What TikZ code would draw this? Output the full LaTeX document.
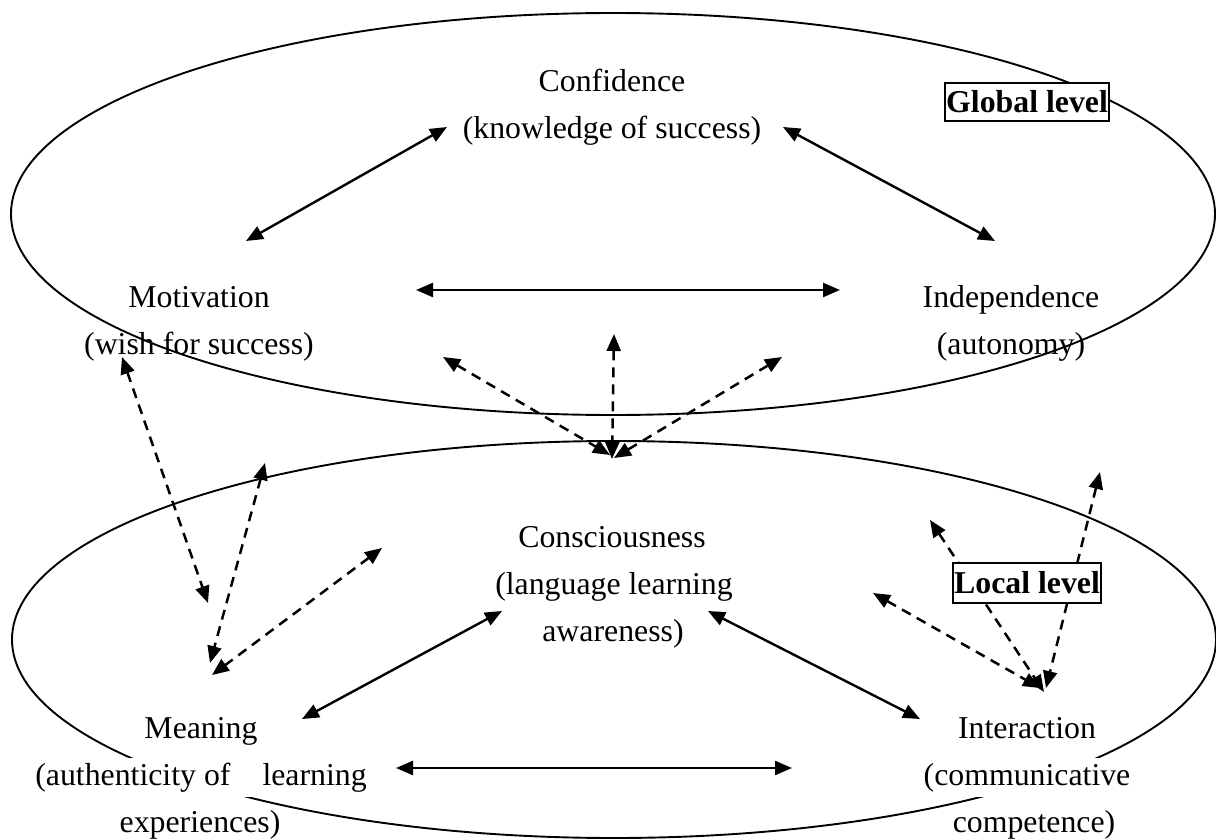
\documentclass[tikz,border=0pt]{standalone}
\usepackage{fontspec}
\setmainfont{Liberation Serif}
\usetikzlibrary{arrows.meta}
\begin{document}
\begin{tikzpicture}[x=0.5pt,y=-0.5pt,
  lbl/.style={font=\fontsize{15.9}{19}\selectfont, anchor=base, inner sep=2.5pt},
  wlbl/.style={lbl, fill=white},
  lvl/.style={draw, line width=1.1pt, fill=white, font=\fontsize{15.9}{19}\selectfont\bfseries, inner sep=0pt, minimum height=19pt, text height=10.9pt, text depth=0pt},
  oval/.style={line width=0.95pt},
  biarrow/.style={line width=1.2pt, {Triangle[length=8.5pt,width=7pt]}-{Triangle[length=8.5pt,width=7pt]}},
  dasharrow/.style={biarrow, line width=1.25pt, dash pattern=on 5pt off 3.5pt}
]
\useasboundingbox (0,0) rectangle (1216,840);

% ovals
\draw[oval] (613,214) ellipse [x radius=301pt, y radius=100.5pt];
\draw[oval] (614,639.5) ellipse [x radius=301pt, y radius=99.25pt];

% arrow end points
\coordinate (s1a) at (447,127); \coordinate (s1b) at (246,241);
\coordinate (s2a) at (783,127); \coordinate (s2b) at (995,241);
\coordinate (s3a) at (416,290); \coordinate (s3b) at (840,290);
\coordinate (s4a) at (502,611); \coordinate (s4b) at (302,719);
\coordinate (s5a) at (708,611); \coordinate (s5b) at (920,719);
\coordinate (s6a) at (396,768); \coordinate (s6b) at (792,768);

\coordinate (t1a) at (443,357); \coordinate (t1b) at (610,455);
\coordinate (t2a) at (614,334); \coordinate (t2b) at (612,459);
\coordinate (t3a) at (782,357); \coordinate (t3b) at (614,458);
\coordinate (l1a) at (122,357); \coordinate (l1b) at (208,603);
\coordinate (l2a) at (265,463); \coordinate (l2b) at (210,663);
\coordinate (l3a) at (382,548); \coordinate (l3b) at (212,675);
\coordinate (r1a) at (873,593); \coordinate (r1b) at (1040,688);
\coordinate (r2a) at (930,520); \coordinate (r2b) at (1044,692);
\coordinate (r3a) at (1100,472); \coordinate (r3b) at (1046,688);

% solid arrows
\foreach \n in {s1,s2,s3,s4,s5,s6} \draw[biarrow] (\n a) -- (\n b);
% dashed arrows
\foreach \n in {t1,t2,t3,l1,l2,l3,r1,r2,r3} \draw[dasharrow] (\n a) -- (\n b);

% global level texts
\node[lbl] (conf1) at (612,92) {Confidence};
\node[lbl] (conf2) at (612,139) {(knowledge of success)};
\node[lbl] (mot1) at (199,307) {Motivation};
\node[lbl] (mot2) at (199,354) {(wish for success)};
\node[lbl] (ind1) at (1011,307) {Independence};
\node[lbl] (ind2) at (1011,354) {(autonomy)};
\node[lvl, minimum width=82pt] (global) at (1027,102) {Global level};

% local level texts
\node[lbl] (con1) at (612,547) {Consciousness};
\node[lbl] (con2) at (614,594) {(language learning};
\node[lbl] (con3) at (613,641) {awareness)};
\node[lbl] (mea1) at (201,738) {Meaning};
\node[wlbl] (mea2) at (201,785) {(authenticity of\hspace{16pt}learning};
\node[lbl] (mea3) at (200,832) {experiences)};
\node[lbl] (int1) at (1027,738) {Interaction};
\node[wlbl] (int2) at (1027,785) {(communicative};
\node[lbl] (int3) at (1034,832) {competence)};
\node[lvl, minimum width=74pt, minimum height=20pt] (local) at (1027,583) {Local level};
\end{tikzpicture}
\end{document}
